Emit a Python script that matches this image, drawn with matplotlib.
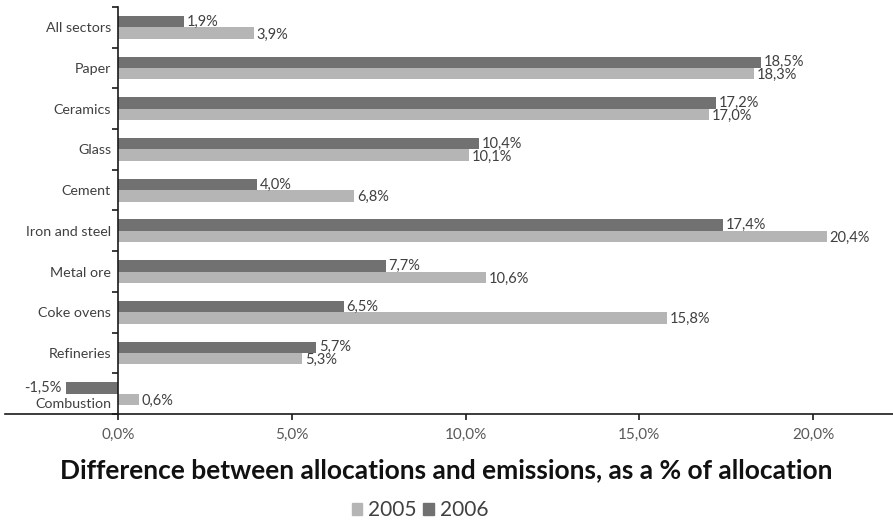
import matplotlib
matplotlib.use("Agg")
import matplotlib.pyplot as plt
import matplotlib.transforms as mtransforms
import numpy as np
from matplotlib.patches import Patch

categories = ["All sectors", "Paper", "Ceramics", "Glass", "Cement",
              "Iron and steel", "Metal ore", "Coke ovens", "Refineries", "Combustion"]
v2005 = [3.9, 18.3, 17.0, 10.1, 6.8, 20.4, 10.6, 15.8, 5.3, 0.6]
v2006 = [1.9, 18.5, 17.2, 10.4, 4.0, 17.4, 7.7, 6.5, 5.7, -1.5]
xticks = [0, 5, 10, 15, 20]
xticklabels = ["0,0%", "5,0%", "10,0%", "15,0%", "20,0%"]
title = "Difference between allocations and emissions, as a % of allocation"

c05 = "#b5b5b5"
c06 = "#717171"
txtc = "#404040"

plt.rcParams['font.family'] = ['Lato', 'DejaVu Sans']

fig = plt.figure(figsize=(8.93, 5.21), dpi=100)
ax = fig.add_axes([5/893, 1-414/521, 888/893, 407/521])

n = len(categories)
y = np.arange(n)
h = 0.28
ax.barh(y - h/2, v2006, height=h, color=c06, zorder=2)
ax.barh(y + h/2, v2005, height=h, color=c05, zorder=2)

ax.set_ylim(n - 0.5, -0.5)
ax.set_xlim(-3.25, 22.3)

def fmt(v):
    return f"{v:.1f}%".replace(".", ",")

lfs = 10.5
for yi, v in zip(y, v2006):
    if v >= 0:
        ax.annotate(fmt(v), (v, yi - h/2), xytext=(2, 0), textcoords="offset points",
                    ha="left", va="center", fontsize=lfs, color=txtc)
    else:
        ax.annotate(fmt(v), (v, yi - h/2), xytext=(-3, 0), textcoords="offset points",
                    ha="right", va="center", fontsize=lfs, color=txtc)
for yi, v in zip(y, v2005):
    ax.annotate(fmt(v), (v, yi + h/2), xytext=(2, -1), textcoords="offset points",
                ha="left", va="center", fontsize=lfs, color=txtc)

ax.spines['left'].set_position(('data', 0))
ax.spines['top'].set_visible(False)
ax.spines['right'].set_visible(False)
for s in ['left', 'bottom']:
    ax.spines[s].set_color("#1a1a1a")
    ax.spines[s].set_linewidth(1.2)

ax.set_yticks(y)
ax.set_yticklabels(categories, fontsize=10.3, color=txtc)
ax.set_yticks(np.arange(n + 1) - 0.5, minor=True)
ax.tick_params(axis='y', which='major', length=0, pad=5)
ax.tick_params(axis='y', which='minor', length=4, direction='out', width=1.2, color="#1a1a1a")

# shift "Combustion" label down to avoid overlap
lab = ax.get_yticklabels()[-1]
lab.set_transform(lab.get_transform() + mtransforms.ScaledTranslation(0, -7/72, fig.dpi_scale_trans))

ax.set_xticks(xticks)
ax.set_xticklabels(xticklabels, fontsize=11, color="#595959")
ax.tick_params(axis='x', length=4, direction='out', width=1.2, color="#1a1a1a", pad=6)

fig.text(0.5, 1 - 470/521, title, ha="center", va="center", fontsize=19,
         fontweight="bold", color="#111111")

handles = [Patch(color=c05, label="2005"), Patch(color=c06, label="2006")]
fig.legend(handles=handles, loc="center", bbox_to_anchor=(420/893, 1 - 510/521), ncol=2,
           frameon=False, fontsize=15, handlelength=0.5, handleheight=0.5,
           handletextpad=0.3, columnspacing=0.3, labelcolor=txtc)

fig.savefig("out.png", dpi=100)
